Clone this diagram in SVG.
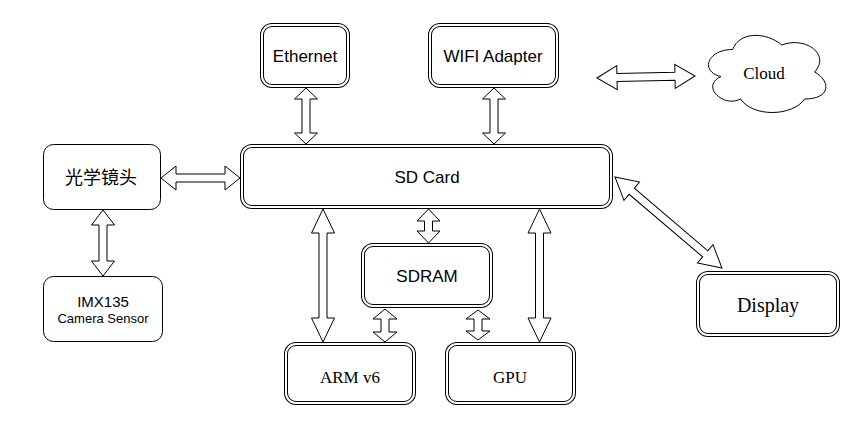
<svg xmlns="http://www.w3.org/2000/svg" width="862" height="429" viewBox="0 0 862 429">
<style>
.dbl{fill:#fff;stroke:#000;stroke-width:4}
.dbli{fill:none;stroke:#fff;stroke-width:2}
.sgl{fill:#fff;stroke:#000;stroke-width:1}
.arr{fill:#fff;stroke:#000;stroke-width:1;stroke-linejoin:miter}
.sans{font-family:"Liberation Sans",Arial,sans-serif;font-size:17px;fill:#000;text-anchor:middle;dominant-baseline:central}
.serif{font-family:"Liberation Serif","Times New Roman",serif;font-size:17px;fill:#000;text-anchor:middle;dominant-baseline:central}
.cjk{font-family:"Liberation Sans","Noto Sans CJK SC",sans-serif;font-size:18px;fill:#000;text-anchor:middle;dominant-baseline:central}
</style>
<rect width="862" height="429" fill="#fff"/>
<g id="connectors">
<path class="arr" d="M306,88 L317.5,99 L310,99 L310,133 L317.5,133 L306,144 L294.5,133 L302,133 L302,99 L294.5,99 Z"/>
<path class="arr" d="M494,88 L505.5,99 L498,99 L498,133 L505.5,133 L494,144 L482.5,133 L490,133 L490,99 L482.5,99 Z"/>
<path class="arr" d="M161,178 L176,166 L176,174 L225,174 L225,166 L240,178 L225,190 L225,182 L176,182 L176,190 Z"/>
<path class="arr" d="M103,210 L114.5,225 L107,225 L107,261 L114.5,261 L103,276 L91.5,261 L99,261 L99,225 L91.5,225 Z"/>
<path class="arr" d="M323,209 L334.5,233 L327,233 L327,318 L334.5,318 L323,342 L311.5,318 L319,318 L319,233 L311.5,233 Z"/>
<path class="arr" d="M539.5,209 L551,233 L543.5,233 L543.5,318 L551,318 L539.5,342 L528,318 L535.5,318 L535.5,233 L528,233 Z"/>
<path class="arr" d="M428.5,209 L440,221 L432.5,221 L432.5,231 L440,231 L428.5,243 L417,231 L424.5,231 L424.5,221 L417,221 Z"/>
<path class="arr" d="M385,309 L397,319 L389,319 L389,332 L397,332 L385,342 L373,332 L381,332 L381,319 L373,319 Z"/>
<path class="arr" d="M478,310 L490,319 L482,319 L482,331 L490,331 L478,340 L466,331 L474,331 L474,319 L466,319 Z"/>
<path class="arr" transform="translate(597,78) rotate(-1.2)" d="M0,0 L20,-12 L20,-4 L78,-4 L78,-12 L98,0 L78,12 L78,4 L20,4 L20,12 Z"/>
<path class="arr" transform="translate(615,177) rotate(40.4)" d="M0,0 L22,-12 L22,-4 L118.5,-4 L118.5,-12 L140.5,0 L118.5,12 L118.5,4 L22,4 L22,12 Z"/>
</g>
<g id="ethernet">
<rect class="dbl" x="262" y="25" width="86" height="61" rx="10"/>
<rect class="dbli" x="262" y="25" width="86" height="61" rx="10"/>
<text class="sans" x="305" y="56">Ethernet</text>
</g>
<g id="wifi">
<rect class="dbl" x="430" y="25" width="127" height="61" rx="10"/>
<rect class="dbli" x="430" y="25" width="127" height="61" rx="10"/>
<text class="sans" x="493" y="56">WIFI Adapter</text>
</g>
<g id="sdcard">
<rect class="dbl" x="242" y="146" width="369" height="61" rx="10"/>
<rect class="dbli" x="242" y="146" width="369" height="61" rx="10"/>
<text class="sans" x="427" y="177">SD Card</text>
</g>
<g id="sdram">
<rect class="dbl" x="363" y="245" width="128" height="61" rx="10"/>
<rect class="dbli" x="363" y="245" width="128" height="61" rx="10"/>
<text class="sans" x="427" y="276">SDRAM</text>
</g>
<g id="arm">
<rect class="dbl" x="286" y="344" width="128" height="59" rx="10"/>
<rect class="dbli" x="286" y="344" width="128" height="59" rx="10"/>
<text class="serif" x="350" y="377">ARM v6</text>
</g>
<g id="gpu">
<rect class="dbl" x="447" y="344" width="127" height="59" rx="10"/>
<rect class="dbli" x="447" y="344" width="127" height="59" rx="10"/>
<text class="serif" x="510" y="377">GPU</text>
</g>
<g id="display">
<rect class="dbl" x="698" y="273" width="140" height="62" rx="10"/>
<rect class="dbli" x="698" y="273" width="140" height="62" rx="10"/>
<text class="serif" x="768" y="305" style="font-size:20px">Display</text>
</g>
<g id="lens">
<rect class="sgl" x="43.5" y="144.5" width="117" height="65" rx="10"/>
<text class="cjk" x="101" y="178">光学镜头</text>
</g>
<g id="imx135">
<rect class="sgl" x="43.5" y="276.5" width="119" height="65" rx="10"/>
<text class="sans" x="103" y="301" style="font-size:15px">IMX135</text>
<text class="sans" x="103" y="318" style="font-size:13px">Camera Sensor</text>
</g>
<g id="cloud">
<path class="sgl" d="M732.75,49.5 C706.55,49.5 700,72 720.96,76.5 C700,86.4 723.58,108 740.61,99 C752.4,117 791.7,117 804.8,99 C831,99 831,81 814.6,72 C831,54 804.8,36 781.9,45 C765.5,31.5 739.3,31.5 732.75,49.5 Z"/>
<text class="serif" x="764" y="73">Cloud</text>
</g>
</svg>
